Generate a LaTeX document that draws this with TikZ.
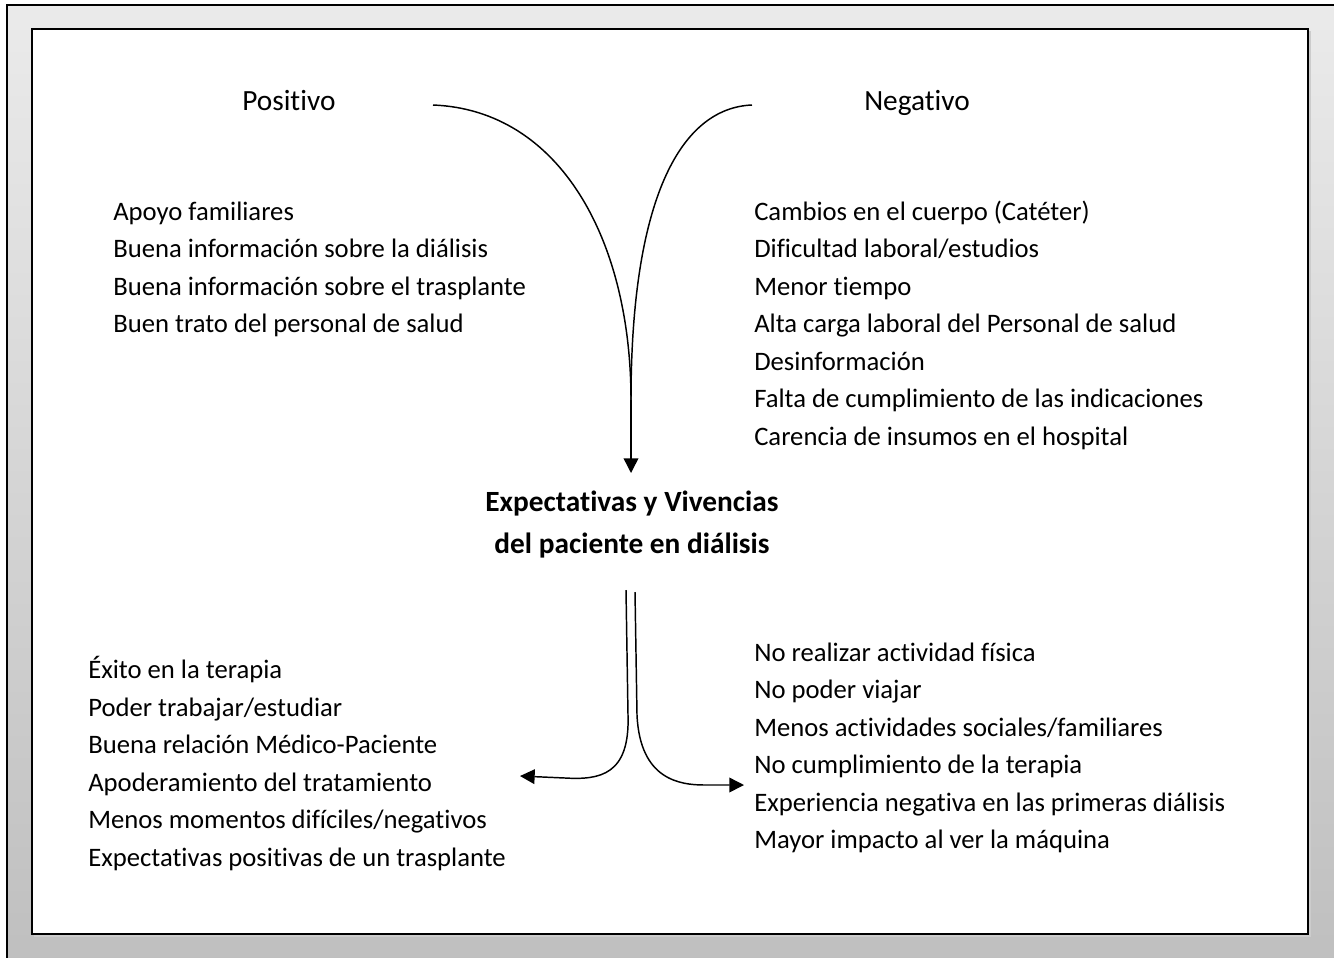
\documentclass[tikz,border=0pt]{standalone}
\usepackage{fontspec}
\setmainfont{Carlito}[Ligatures=NoCommon]
\usetikzlibrary{arrows.meta}
\begin{document}
\begin{tikzpicture}[x=0.75pt,y=-0.75pt,
  lbl/.style={anchor=west,inner sep=0pt,text height=16pt,text depth=1.5pt,font=\fontsize{20}{24}\selectfont},
  head/.style={lbl,text height=17pt,font=\fontsize{22}{26}\selectfont},
  ctr/.style={align=center,inner sep=0pt,font=\fontsize{22}{31.5}\selectfont\bfseries},
  con/.style={line width=1.1pt},
  tip/.style={-{Triangle[length=11pt,width=11pt]}}]
\useasboundingbox (0,0) rectangle (1334,957);
\shade[top color=black!8,bottom color=black!25] (7,5) rectangle (1334,962);
\draw[line width=1.6pt] (7,962) -- (7,5) -- (1334,5);
\fill[black!20] (34,31) rectangle (1311,937);
\fill[white] (32,29) rectangle (1308,934);
\draw[line width=1.6pt] (32,29) rectangle (1308,934);
% headings
\node[head] (pos) at (242,100) {Positivo};
\node[head] (neg) at (864,100) {Negativo};
% top left list
\node[lbl] (p1) at (113,211) {Apoyo familiares};
\node[lbl] (p2) at (113,248) {Buena información sobre la diálisis};
\node[lbl] (p3) at (113,286) {Buena información sobre el trasplante};
\node[lbl] (p4) at (113,323) {Buen trato del personal de salud};
% top right list
\node[lbl] (n1) at (754,211) {Cambios en el cuerpo (Catéter)};
\node[lbl] (n2) at (754,248) {Dificultad laboral/estudios};
\node[lbl] (n3) at (754,286) {Menor tiempo};
\node[lbl] (n4) at (754,323) {Alta carga laboral del Personal de salud};
\node[lbl] (n5) at (754,361) {Desinformación};
\node[lbl] (n6) at (754,398) {Falta de cumplimiento de las indicaciones};
\node[lbl] (n7) at (754,436) {Carencia de insumos en el hospital};
% center
\node[ctr] (c) at (632,525) {Expectativas y Vivencias\\del paciente en diálisis};
% bottom left
\node[lbl] (b1) at (88,669) {Éxito en la terapia};
\node[lbl] (b2) at (88,707) {Poder trabajar/estudiar};
\node[lbl] (b3) at (88,744) {Buena relación Médico-Paciente};
\node[lbl] (b4) at (88,782) {Apoderamiento del tratamiento};
\node[lbl] (b5) at (88,819) {Menos momentos difíciles/negativos};
\node[lbl] (b6) at (88,857) {Expectativas positivas de un trasplante};
% bottom right
\node[lbl] (r1) at (754,652) {No realizar actividad física};
\node[lbl] (r2) at (754,689) {No poder viajar};
\node[lbl] (r3) at (754,727) {Menos actividades sociales/familiares};
\node[lbl] (r4) at (754,764) {No cumplimiento de la terapia};
\node[lbl] (r5) at (754,802) {Experiencia negativa en las primeras diálisis};
\node[lbl] (r6) at (754,839) {Mayor impacto al ver la máquina};
% connectors
\coordinate (ls) at (433,105);
\coordinate (rs) at (752,105);
\coordinate (m) at (631,400);
\coordinate (t) at (631,473);
\draw[con] (ls) .. controls (560,110) and (631,240) .. (m);
\draw[con] (rs) .. controls (680,108) and (631,200) .. (m);
\draw[con,tip] (m) -- (t);
\coordinate (bl) at (626,590);
\coordinate (br) at (635,592);
\coordinate (tl) at (520,776);
\coordinate (tr) at (744,785);
\draw[con,tip] (bl) -- (628,715) .. controls (630,775) and (600,780) .. (565,778) -- (tl);
\draw[con,tip] (br) -- (637,715) .. controls (640,780) and (680,785) .. (705,785) -- (tr);
\end{tikzpicture}
\end{document}
